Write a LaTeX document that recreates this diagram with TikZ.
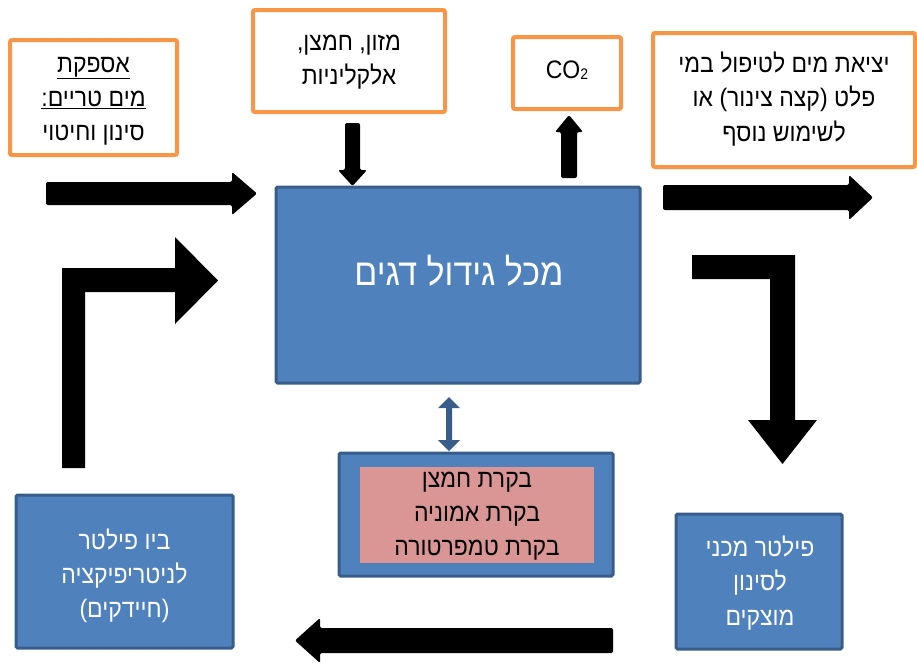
\documentclass[tikz,border=0pt]{standalone}
\usepackage{fontspec}
\setmainfont{Liberation Sans}
\newfontfamily\heb[Script=Hebrew]{Liberation Sans}
\TeXXeTstate=1
\usetikzlibrary{arrows.meta}
\definecolor{orng}{HTML}{F79646}
\definecolor{bfill}{HTML}{4F81BD}
\definecolor{bline}{HTML}{385D8A}
\definecolor{pinkc}{HTML}{D99694}
\newcommand{\RL}[1]{\beginR #1\endR}
\begin{document}
\begin{tikzpicture}[x=1pt,y=-1pt,
  obox/.style={draw=orng, line width=4pt, rounded corners=2pt, fill=white, inner sep=0pt},
  bbox/.style={draw=bline, line width=3pt, fill=bfill, rounded corners=1.5pt, inner sep=0pt},
  pbox/.style={fill=pinkc, inner sep=0pt},
  txt/.style={align=center, inner sep=0pt, font=\heb\fontsize{23}{31}\selectfont, yscale=1.1},
  wtxt/.style={txt, text=white},
  blk/.style={fill=black, rounded corners=2pt},
  blksharp/.style={fill=black},
  dbl/.style={fill=bline}
]
\useasboundingbox (0,0) rectangle (917,662);

% boxes
\node[obox, minimum width=167pt, minimum height=115pt] (supply) at (93.5,97.5) {};
\node[obox, minimum width=192pt, minimum height=102pt] (food) at (349,61) {};
\node[obox, minimum width=108pt, minimum height=72pt] (co2) at (567,73) {};
\node[obox, minimum width=262pt, minimum height=134pt] (outw) at (784,100) {};
\node[bbox, minimum width=364pt, minimum height=196pt] (tank) at (458,285) {};
\node[bbox, minimum width=274pt, minimum height=123pt] (ctrl) at (476,514.5) {};
\node[pbox, minimum width=234pt, minimum height=96pt] (inner) at (477,515) {};
\node[bbox, minimum width=217pt, minimum height=153pt] (bio) at (124.5,571.5) {};
\node[bbox, minimum width=166pt, minimum height=135pt] (mech) at (759,581.5) {};

% texts
\node[txt] (supplyt) at (93.5,101) {\underline{\RL{אספקת}}\\\underline{\RL{מים טריים:}}\\\RL{סינון וחיטוי}};
\node[txt] (foodt) at (349,62) {\RL{מזון, חמצן,}\\\RL{אלקליניות}};
\node[txt, font=\fontsize{23}{31}\selectfont] (co2t) at (567,70) {CO\raisebox{-1pt}{\fontsize{14}{14}\selectfont 2}};
\node[txt] (outwt) at (784,99) {\RL{יציאת מים לטיפול במי}\\\RL{פלט (קצה צינור) או}\\\RL{לשימוש נוסף}};
\node[wtxt, font=\heb\fontsize{34}{40}\selectfont] (tankt) at (459,271) {\RL{מכל גידול דגים}};
\node[txt] (ctrlt) at (477,516) {\RL{בקרת חמצן}\\\RL{בקרת אמוניה}\\\RL{בקרת טמפרטורה}};
\node[wtxt] (biot) at (124.5,576) {\RL{ביו פילטר}\\\RL{לניטריפיקציה}\\\RL{(חיידקים)}};
\node[wtxt] (mecht) at (760,583) {\RL{פילטר מכני}\\\RL{לסינון}\\\RL{מוצקים}};

% arrows
\fill[blk] (46,182) -- (232,182) -- (232,172) -- (257,193.5) -- (232,215) -- (232,205) -- (46,205) -- cycle;
\fill[blk] (663,185) -- (849,185) -- (849,175) -- (873,197.5) -- (849,220) -- (849,210) -- (663,210) -- cycle;
\fill[blk] (345,123) -- (360,123) -- (360,170) -- (367,170) -- (352.5,186) -- (338,170) -- (345,170) -- cycle;
\fill[blk] (561,178) -- (577,178) -- (577,132) -- (583,132) -- (569,115) -- (555,132) -- (561,132) -- cycle;
\fill[blksharp] (62,468) -- (62,268) -- (175,268) -- (175,237) -- (218,280.5) -- (175,324) -- (175,292) -- (85,292) -- (85,468) -- cycle;
\fill[blksharp] (692,255) -- (795,255) -- (795,420) -- (817,420) -- (782.5,464) -- (748,420) -- (770,420) -- (770,279) -- (692,279) -- cycle;
\fill[blk] (613,628) -- (320,628) -- (320,618) -- (295,640.5) -- (320,663) -- (320,653) -- (613,653) -- cycle;
\fill[dbl] (449,397) -- (460,408) -- (452,408) -- (452,440) -- (460,440) -- (449,451) -- (438,440) -- (446,440) -- (446,408) -- (438,408) -- cycle;
\end{tikzpicture}
\end{document}
